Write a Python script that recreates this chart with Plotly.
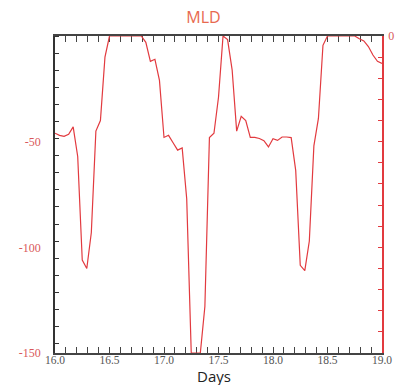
import plotly.graph_objects as go

# hourly samples, days 16.0 .. 19.0
days = [16 + h / 24 for h in range(73)]
mld = [
    -46, -47, -47.5, -46.5, -43, -57, -106, -110, -93, -45, -40, -10,   # 16.00-16.46
    0, 0, 0, 0, 0, 0, 0, 0, -3, -12, -11, -21,                          # 16.50-16.96
    -48, -47, -50.5, -54, -53, -77, -150, -150, -150, -128, -48, -46,    # 17.00-17.46
    -29, 0, -1.7, -16, -45, -38, -40, -48, -48, -48.5, -49.5, -52.5,     # 17.50-17.96
    -48.6, -49.4, -47.8, -47.8, -48.1, -63.6, -108.5, -111, -97, -52, -39, -4.4,  # 18.00-18.46
    0, 0, 0, 0, 0, 0, 0, -1.3, -2.3, -5, -9, -12, -13,                  # 18.50-19.00
]
x_ticks = [16.0, 16.5, 17.0, 17.5, 18.0, 18.5, 19.0]
x_ticklabels = ["16.0", "16.5", "17.0", "17.5", "18.0", "18.5", "19.0"]
left_ticks = [-50, -100, -150]
left_ticklabels = ["-50", "-100", "-150"]
right_ticks = list(range(0, -151, -10))
right_ticklabels = ["0"] + [""] * (len(right_ticks) - 1)
left_minor = [-8.09 * k for k in range(19)]

LINE = "#E23A3F"
YLAB = "#D9575A"
SERIF = "Liberation Serif, Times New Roman, serif"

fig = go.Figure()
fig.add_trace(go.Scatter(x=days, y=mld, mode="lines",
                         line=dict(color=LINE, width=1.2), showlegend=False))
fig.add_trace(go.Scatter(x=[16, 19], y=[None, None], yaxis="y2", mode="lines",
                         showlegend=False, hoverinfo="skip"))

fig.update_layout(
    width=407, height=385,
    margin=dict(l=55, r=25, t=36, b=32),
    paper_bgcolor="white", plot_bgcolor="white",
    showlegend=False,
    title=dict(text="MLD", x=0.5, xanchor="center", y=0.955, yanchor="middle",
               font=dict(family="Open Sans", size=16, color="#E8694F")),
    xaxis=dict(
        range=[16, 19], tickmode="array", tickvals=x_ticks, ticktext=x_ticklabels,
        ticks="inside", ticklen=6, tickwidth=1, tickcolor="#444",
        showline=True, linecolor="#444", linewidth=1.5, mirror="allticks",
        showgrid=False, zeroline=False, layer="below traces",
        ticklabelstandoff=-5,
        tickfont=dict(family=SERIF, size=11.5, color="#555"),
        minor=dict(dtick=0.1, tick0=16, ticks="inside", ticklen=3.5,
                   tickcolor="#444", showgrid=False),
    ),
    yaxis=dict(
        range=[-150, 0], tickmode="array", tickvals=left_ticks, ticktext=left_ticklabels,
        ticks="", showline=True, linecolor="#333", linewidth=1.5,
        showgrid=False, zeroline=False, ticklabelstandoff=10, layer="below traces",
        tickfont=dict(family=SERIF, size=12, color=YLAB),
        minor=dict(tickmode="array", tickvals=left_minor, ticks="inside", ticklen=4.5,
                   tickcolor="#333", showgrid=False),
    ),
    yaxis2=dict(
        range=[-150, 0], overlaying="y", side="right",
        tickmode="array", tickvals=right_ticks, ticktext=right_ticklabels,
        ticks="inside", ticklen=4, tickcolor=LINE,
        showline=True, linecolor=LINE, linewidth=1.5,
        showgrid=False, zeroline=False, ticklabelstandoff=2,
        tickfont=dict(family=SERIF, size=12, color=YLAB),
    ),
    annotations=[dict(text="Days", x=0.485, xref="paper", y=-0.073, yref="paper",
                      yanchor="middle", showarrow=False,
                      font=dict(family="Open Sans", size=15, color="#222"))],
)

fig.write_html("out.html")
